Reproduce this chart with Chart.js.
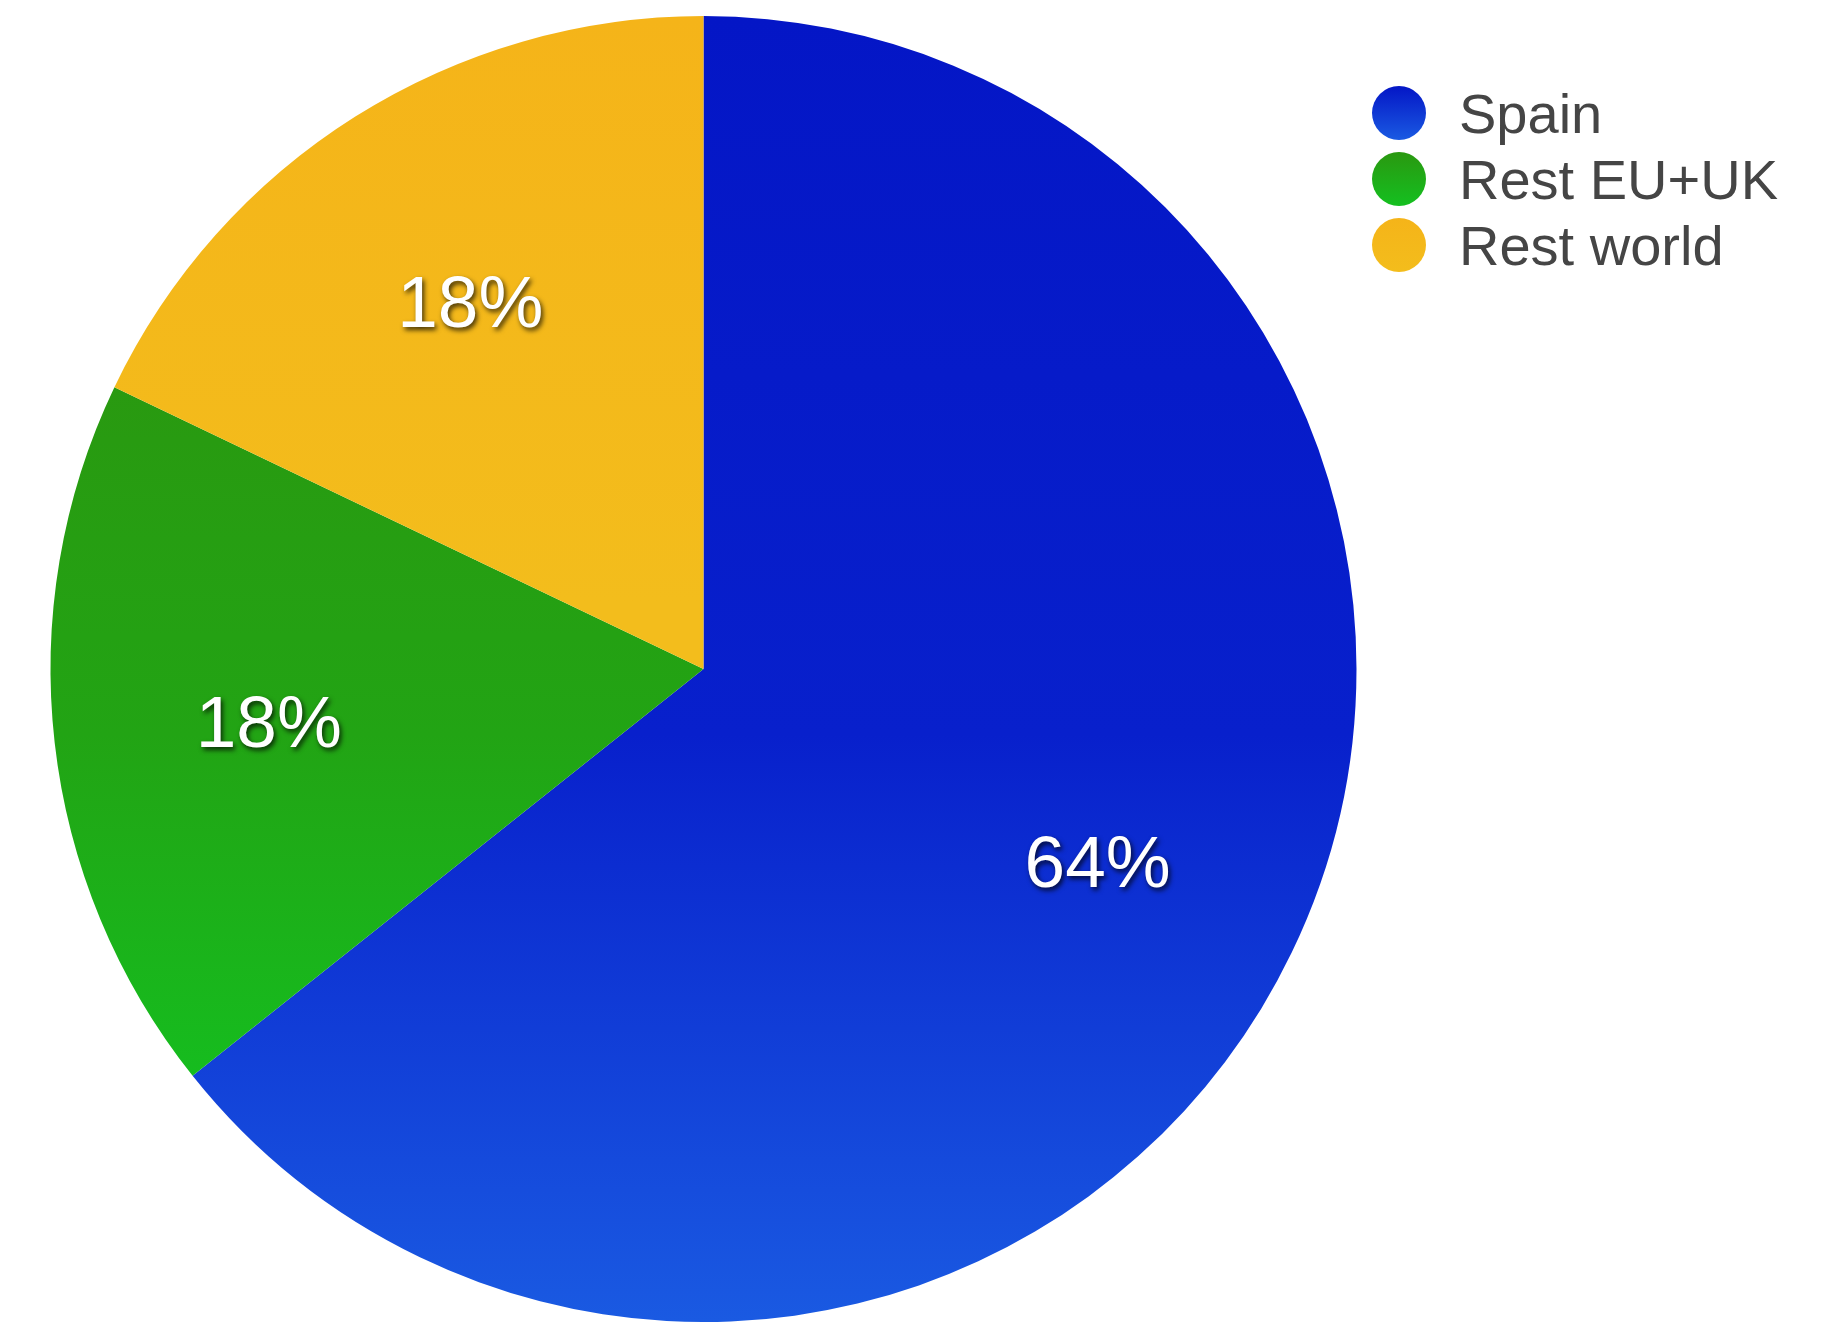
<!DOCTYPE html>
<html>
<head>
<meta charset="utf-8">
<title>Sales by region</title>
<script src="https://cdn.jsdelivr.net/npm/chart.js@4.4.1/dist/chart.umd.min.js"></script>
<style>
    html, body { margin: 0; padding: 0; background: #fff; overflow: hidden; }
    #wrap { width: 1840px; height: 1322px; }
</style>
</head>
<body>
<div id="wrap"><canvas id="grafikPie" width="1840" height="1322"></canvas></div>
<script>
// data
const regions = ['Spain', 'Rest EU+UK', 'Rest world'];
const shares = [64.3, 17.8, 17.9];

// top / bottom colours of each slice
const colorStops = [
    [[0, '#0416c6'], [0.55, '#0820cc'], [1, '#1a5ae2']],
    [[0.25, '#2a9810'], [0.55, '#22a414'], [0.85, '#14c020']],
    [[0, '#f5b419'], [0.45, '#f3bd1c']]
];

function sliceFill(context) {
    const chart = context.chart;
    const area = chart.chartArea;
    if (!area) return colorStops[context.dataIndex][0][1];
    const g = chart.ctx.createLinearGradient(0, area.top, 0, area.bottom);
    colorStops[context.dataIndex].forEach(s => g.addColorStop(s[0], s[1]));
    return g;
}

// percentage labels inside the slices
const pctLabels = {
    id: 'pctLabels',
    afterDatasetsDraw(chart) {
        const ctx = chart.ctx;
        const meta = chart.getDatasetMeta(0);
        const data = chart.data.datasets[0].data;
        const total = data.reduce((a, b) => a + b, 0);
        ctx.save();
        ctx.font = '73px "Liberation Sans", Arial, sans-serif';
        ctx.textAlign = 'center';
        ctx.textBaseline = 'middle';
        ctx.fillStyle = '#ffffff';
        ctx.shadowColor = 'rgba(0,0,0,0.75)';
        ctx.shadowBlur = 5;
        ctx.shadowOffsetX = 2;
        ctx.shadowOffsetY = 3;
        meta.data.forEach((arc, i) => {
            const p = arc.getProps(['x', 'y', 'startAngle', 'endAngle', 'outerRadius'], true);
            const mid = (p.startAngle + p.endAngle) / 2;
            const r = p.outerRadius * 0.67;
            const txt = Math.round(data[i] / total * 100) + '%';
            ctx.fillText(txt, p.x + Math.cos(mid) * r, p.y + Math.sin(mid) * r + 8);
        });
        ctx.restore();
    }
};

// legend on the right, circles + names
const sideLegend = {
    id: 'sideLegend',
    afterDraw(chart) {
        const ctx = chart.ctx;
        ctx.save();
        ctx.font = '56px "Liberation Sans", Arial, sans-serif';
        ctx.textBaseline = 'middle';
        chart.data.labels.forEach((lbl, i) => {
            const cy = 113 + i * 66;
            const g = ctx.createLinearGradient(0, cy - 27, 0, cy + 27);
            const stops = colorStops[i];
            g.addColorStop(0, stops[0][1]);
            g.addColorStop(1, stops[stops.length - 1][1]);
            ctx.fillStyle = g;
            ctx.beginPath();
            ctx.arc(1399, cy, 27, 0, Math.PI * 2);
            ctx.fill();
            ctx.fillStyle = '#454545';
            ctx.fillText(lbl, 1459, cy + 5);
        });
        ctx.restore();
    }
};

const ctx = document.getElementById('grafikPie').getContext('2d');
new Chart(ctx, {
    type: 'pie',
    data: {
        labels: regions,
        datasets: [{
            data: shares,
            backgroundColor: sliceFill,
            borderWidth: 0
        }]
    },
    options: {
        responsive: false,
        animation: false,
        layout: {
            padding: { left: 50, right: 483, top: 16, bottom: 0 }
        },
        plugins: {
            legend: { display: false },
            tooltip: { enabled: false }
        }
    },
    plugins: [pctLabels, sideLegend]
});
</script>
</body>
</html>
